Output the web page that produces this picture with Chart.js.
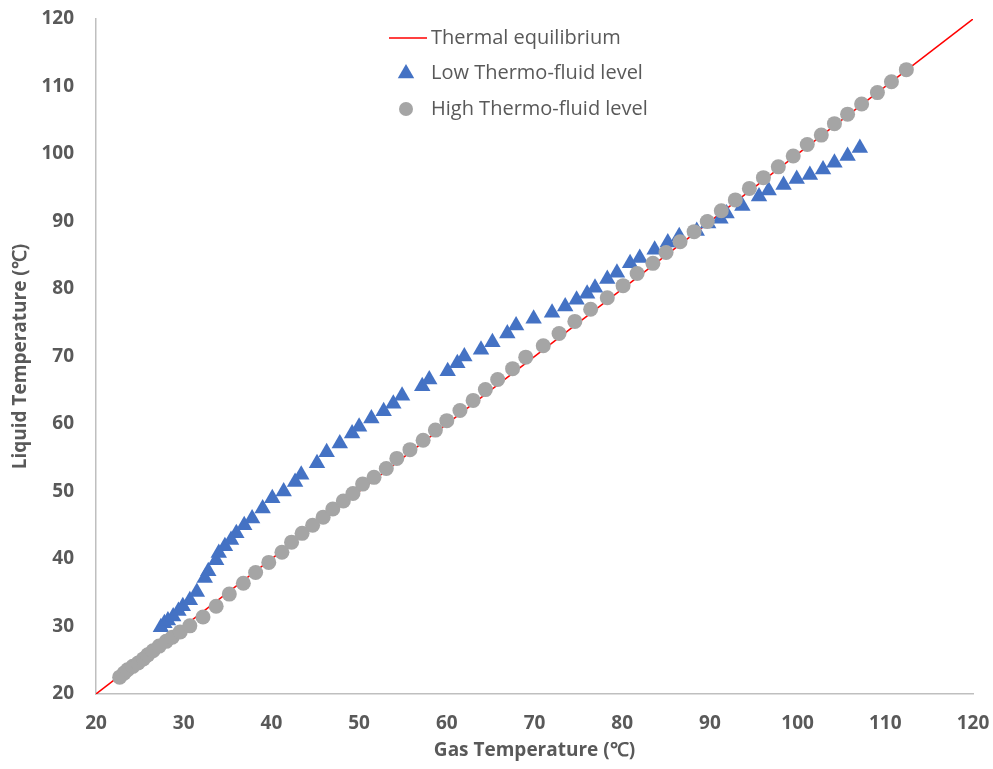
<!DOCTYPE html>
<html>
<head>
<meta charset="utf-8">
<script src="https://cdn.jsdelivr.net/npm/chart.js@4.4.0/dist/chart.umd.min.js"></script>
<style>
  body { margin: 0; background: #fff; }
  #wrap { width: 993px; height: 769px; }
</style>
</head>
<body>
<div id="wrap"><canvas id="myChart" width="993" height="769"></canvas></div>
<script>
// thermal equilibrium line (liquid = gas)
var eqGas = [20, 120];
var eqLiquid = [20, 120];

// low thermo-fluid level
var lowGas = [27.4, 27.8, 28.2, 28.8, 29.4, 29.9, 30.7, 31.5, 32.4, 32.8, 33.7, 34.0, 34.7, 35.4, 36.0,
  36.9, 37.8, 39.0, 40.1, 41.4, 42.7, 43.4, 45.2, 46.3, 47.8, 49.2, 50.0, 51.4, 52.8, 53.9,
  54.9, 57.2, 58.0, 60.1, 61.2, 62.0, 63.9, 65.2, 66.9, 67.9, 69.9, 72.0, 73.5, 74.8, 76.0,
  76.9, 78.3, 79.4, 80.9, 82.0, 83.7, 85.2, 86.5, 88.5, 89.8, 91.2, 91.9, 93.7, 95.6, 96.7,
  98.4, 99.9, 101.4, 102.9, 104.2, 105.7, 107.1];
var lowLiquid = [29.9, 30.5, 30.9, 31.5, 32.3, 33.0, 33.9, 35.1, 37.2, 38.2, 39.8, 40.9, 41.9, 42.8, 43.8,
  45.0, 46.0, 47.5, 49.0, 50.0, 51.4, 52.5, 54.2, 55.8, 57.1, 58.6, 59.6, 60.8, 61.9, 63.0,
  64.2, 65.6, 66.6, 67.8, 69.0, 70.0, 71.0, 72.1, 73.4, 74.6, 75.6, 76.5, 77.4, 78.4, 79.3,
  80.2, 81.5, 82.4, 83.8, 84.6, 85.8, 86.9, 87.8, 88.6, 89.7, 90.4, 91.2, 92.3, 93.7, 94.6,
  95.4, 96.3, 96.9, 97.7, 98.7, 99.7, 100.9];

// high thermo-fluid level
var highGas = [22.7, 23.2, 23.6, 24.2, 24.8, 25.4, 25.9, 26.5, 27.2, 28.0, 28.7, 29.6, 30.7, 32.2, 33.7,
  35.2, 36.8, 38.2, 39.7, 41.2, 42.3, 43.5, 44.7, 45.9, 47.0, 48.2, 49.3, 50.4, 51.7, 53.1,
  54.3, 55.8, 57.3, 58.7, 60.0, 61.5, 63.0, 64.4, 65.8, 67.5, 69.0, 71.0, 72.8, 74.6, 76.4,
  78.3, 80.1, 81.7, 83.5, 85.0, 86.6, 88.2, 89.7, 91.3, 92.9, 94.5, 96.1, 97.8, 99.5, 101.1,
  102.7, 104.2, 105.7, 107.3, 109.1, 110.7, 112.4];
var highLiquid = [22.5, 23.1, 23.6, 24.1, 24.6, 25.2, 25.8, 26.4, 27.1, 27.8, 28.4, 29.2, 30.1, 31.4, 33.0,
  34.8, 36.4, 38.0, 39.5, 41.0, 42.5, 43.8, 45.0, 46.2, 47.4, 48.6, 49.7, 51.1, 52.1, 53.4,
  54.9, 56.2, 57.6, 59.1, 60.5, 62.0, 63.5, 65.1, 66.6, 68.2, 69.9, 71.6, 73.4, 75.2, 77.0,
  78.7, 80.5, 82.3, 83.8, 85.4, 87.0, 88.5, 90.0, 91.6, 93.2, 94.9, 96.5, 98.1, 99.7, 101.4,
  102.8, 104.5, 105.9, 107.4, 109.1, 110.7, 112.5];

var axisMin = 20, axisMax = 120, axisStep = 10;

function toPoints(xs, ys) {
  return xs.map(function (x, i) { return { x: x, y: ys[i] }; });
}

var grey = "#595959";

// legend drawn inside the plot area, stacked
var insideLegend = {
  id: "insideLegend",
  afterDraw: function (chart) {
    var ctx = chart.ctx;
    var x0 = 406, y0 = 38, gap = 35.5;
    ctx.save();
    ctx.font = "20px 'Open Sans'";
    ctx.textBaseline = "middle";
    chart.data.datasets.forEach(function (ds, i) {
      var y = y0 + i * gap;
      if (ds.pointRadius === 0) {
        ctx.strokeStyle = ds.borderColor;
        ctx.lineWidth = 1.5;
        ctx.beginPath();
        ctx.moveTo(389, y);
        ctx.lineTo(427, y);
        ctx.stroke();
      } else if (ds.pointStyle === "triangle") {
        var r = 9.5;
        ctx.fillStyle = ds.backgroundColor;
        ctx.beginPath();
        ctx.moveTo(x0, y - r);
        ctx.lineTo(x0 + r * 0.866, y + r * 0.5);
        ctx.lineTo(x0 - r * 0.866, y + r * 0.5);
        ctx.closePath();
        ctx.fill();
      } else {
        ctx.fillStyle = ds.backgroundColor;
        ctx.beginPath();
        ctx.arc(x0, y, 7, 0, Math.PI * 2);
        ctx.fill();
      }
      ctx.fillStyle = grey;
      ctx.fillText(ds.label, 431, y);
    });
    ctx.restore();
  }
};

var ctx = document.getElementById("myChart").getContext("2d");
var myChart = new Chart(ctx, {
  type: "scatter",
  data: {
    datasets: [
      {
        label: "Thermal equilibrium",
        type: "line",
        data: toPoints(eqGas, eqLiquid),
        borderColor: "#FF0000",
        borderWidth: 1.5,
        pointRadius: 0,
        fill: false,
        order: 3
      },
      {
        label: "Low Thermo-fluid level",
        data: toPoints(lowGas, lowLiquid),
        pointStyle: "triangle",
        pointRadius: 9.5,
        backgroundColor: "#4472C4",
        borderColor: "#4472C4",
        borderWidth: 0,
        order: 2
      },
      {
        label: "High Thermo-fluid level",
        data: toPoints(highGas, highLiquid),
        pointStyle: "circle",
        pointRadius: 7.5,
        backgroundColor: "#A5A5A5",
        borderColor: "#A5A5A5",
        borderWidth: 0,
        order: 1
      }
    ]
  },
  options: {
    responsive: false,
    animation: false,
    layout: { padding: { top: 19, right: 20, bottom: 0, left: 0 } },
    plugins: {
      legend: { display: false },
      tooltip: { enabled: false }
    },
    scales: {
      x: {
        type: "linear",
        min: axisMin,
        max: axisMax,
        grid: { display: false, drawTicks: false },
        border: { display: true, color: "#BFBFBF", width: 1.5 },
        ticks: {
          stepSize: axisStep,
          padding: 18,
          color: grey,
          font: { family: "'Open Sans'", size: 19, weight: "bold" }
        },
        title: {
          display: true,
          text: "Gas Temperature (℃)",
          color: grey,
          padding: { top: 0, bottom: 7 },
          font: { family: "'Open Sans'", size: 19, weight: "bold" }
        },
        afterFit: function (scale) {
          scale.height = 75;
          scale.paddingLeft = 0;
          scale.paddingRight = 0;
        }
      },
      y: {
        type: "linear",
        min: axisMin,
        max: axisMax,
        grid: { display: false, drawTicks: false },
        border: { display: true, color: "#BFBFBF", width: 1.5 },
        ticks: {
          stepSize: axisStep,
          padding: 22,
          color: grey,
          font: { family: "'Open Sans'", size: 19, weight: "bold" }
        },
        title: {
          display: true,
          text: "Liquid Temperature (℃)",
          color: grey,
          padding: { top: 9, bottom: 0 },
          font: { family: "'Open Sans'", size: 19, weight: "bold" }
        },
        afterFit: function (scale) {
          scale.width = 96;
          scale.paddingTop = 0;
          scale.paddingBottom = 0;
        }
      }
    }
  },
  plugins: [insideLegend]
});
</script>
</body>
</html>
